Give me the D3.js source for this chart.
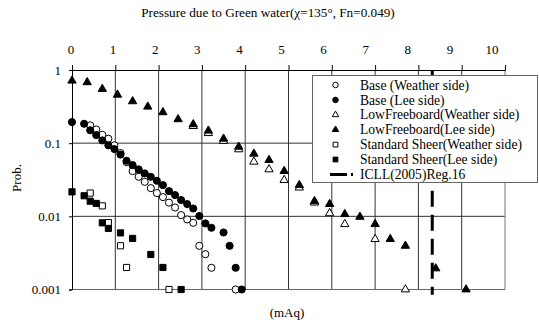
<!DOCTYPE html>
<html><head><meta charset="utf-8">
<script src="https://cdn.jsdelivr.net/npm/d3@7"></script>
<style>body{margin:0;background:#fff;} svg{display:block;} text{font-family:"Liberation Serif","Times New Roman",serif;fill:#000;}</style>
</head><body>
<svg id="c" width="539" height="325"></svg>
<script>
const title = "Pressure due to Green water(\u03c7=135\u00b0, Fn=0.049)";
const xLabel = "(mAq)";
const yLabel = "Prob.";
const xTicks = [0,1,2,3,4,5,6,7,8,9,10];
const yTicks = [1,0.1,0.01,0.001];
const yTickLabels = ["1","0.1","0.01","0.001"];

// Base (Weather side) - open circles
const baseWx = [0.42,0.56,0.70,0.84,0.98,1.12,1.26,1.40,1.54,1.68,1.82,1.96,2.10,2.24,2.38,2.52,2.66,2.80,2.94,3.08,3.22,3.78];
const baseWy = [0.175,0.154,0.130,0.115,0.0933,0.0733,0.0551,0.0415,0.0347,0.0296,0.0243,0.0208,0.0183,0.0154,0.0132,0.0104,0.00907,0.00815,0.00395,0.00304,0.00198,0.001];
// Base (Lee side) - filled circles
const baseLx = [0,0.28,0.42,0.56,0.70,0.84,0.98,1.12,1.26,1.40,1.54,1.68,1.82,1.96,2.10,2.24,2.38,2.52,2.66,2.80,2.94,3.08,3.22,3.50,3.64,3.78,3.92];
const baseLy = [0.194,0.184,0.150,0.129,0.109,0.0933,0.083,0.0698,0.0574,0.0501,0.0438,0.0386,0.0347,0.0306,0.0267,0.0221,0.0195,0.0167,0.0147,0.0128,0.0101,0.0080,0.00697,0.00602,0.00395,0.00198,0.001];
// LowFreeboard (Weather side) - open triangles
const lowWx = [2.80,3.15,3.50,3.85,4.20,4.55,4.90,5.25,5.60,5.95,6.30,7.00,7.70];
const lowWy = [0.171,0.137,0.107,0.0822,0.0557,0.0438,0.0313,0.0247,0.0154,0.0110,0.00782,0.00488,0.001];
// LowFreeboard (Lee side) - filled triangles
const lowLx = [0,0.35,0.70,1.05,1.40,1.75,2.10,2.45,2.80,3.15,3.50,3.85,4.20,4.55,4.90,5.25,5.60,5.95,6.30,6.65,7.00,7.35,7.70,8.40,9.10];
const lowLy = [0.714,0.679,0.55,0.459,0.373,0.315,0.264,0.212,0.181,0.148,0.115,0.0893,0.0716,0.0587,0.0415,0.0267,0.0161,0.0147,0.0107,0.00984,0.00782,0.00488,0.00395,0.00194,0.001];
// Standard Sheer (Weather side) - open squares
const stdWx = [0.42,0.70,0.84,1.12,1.26,2.24];
const stdWy = [0.0208,0.0139,0.0082,0.00396,0.0020,0.001];
// Standard Sheer (Lee side) - filled squares
const stdLx = [0,0.28,0.42,0.56,0.70,0.84,1.12,1.40,1.82,2.10,2.52];
const stdLy = [0.0216,0.0191,0.0161,0.0150,0.00815,0.00683,0.00594,0.00499,0.00301,0.0020,0.001];
// ICLL (2005) Reg.16 vertical line
const icllX = 8.32;
const icllY = [1,0.00085];

const legendNames = ["Base (Weather side)","Base (Lee side)","LowFreeboard(Weather side)","LowFreeboard(Lee side)","Standard Sheer(Weather side)","Standard Sheer(Lee side)","ICLL(2005)Reg.16"];

const svg = d3.select("#c");
const x = d3.scaleLinear().domain([0,10]).range([72,505]);
const xLab = d3.scaleLinear().domain([0,10]).range([71,492]);
const y = d3.scaleLog().domain([0.001,1]).range([289.5,70]);
const FS = "13px";

svg.append("text").attr("x",268).attr("y",17).attr("text-anchor","middle").style("font-size","13.2px").text(title);

// grid
const g = svg.append("g");
g.selectAll(".vg").data(d3.range(1,10)).enter().append("line")
  .attr("x1",d=>x(d)).attr("x2",d=>x(d)).attr("y1",y(1)).attr("y2",y(0.001))
  .attr("stroke","#333").attr("stroke-width",1);
g.selectAll(".hg").data([0.1,0.01]).enter().append("line")
  .attr("x1",x(0)).attr("x2",x(10)).attr("y1",d=>y(d)).attr("y2",d=>y(d))
  .attr("stroke","#333").attr("stroke-width",1);
// border
g.append("line").attr("x1",x(10)).attr("x2",x(10)).attr("y1",y(1)).attr("y2",y(0.001)).attr("stroke","#777");
g.append("line").attr("x1",x(0)).attr("x2",x(10)).attr("y1",y(0.001)).attr("y2",y(0.001)).attr("stroke","#666");

// top axis
const ax = svg.append("g").attr("transform",`translate(0,${y(1)})`)
  .call(d3.axisTop(x).tickValues(xTicks).tickSize(5).tickFormat(""));
ax.select(".domain").attr("stroke","#000");
ax.selectAll(".tick line").attr("stroke","#000");
svg.selectAll(".xl").data(xTicks).enter().append("text")
  .attr("x",d=>xLab(d)).attr("y",54).attr("text-anchor","middle").style("font-size",FS).text(d=>d);

// left axis
const ay = svg.append("g").attr("transform",`translate(${x(0)},0)`)
  .call(d3.axisLeft(y).tickValues(yTicks).tickSize(3).tickPadding(8).tickFormat((d,i)=>yTickLabels[i]));
ay.selectAll("text").style("font-size",FS).style("font-family","Liberation Serif");
ay.select(".domain").attr("stroke","#000");

svg.append("text").attr("transform","translate(21,178) rotate(-90)").attr("text-anchor","middle").style("font-size",FS).text(yLabel);
svg.append("text").attr("x",287).attr("y",317).attr("text-anchor","middle").style("font-size",FS).text(xLabel);

// ICLL line
svg.append("line").attr("x1",x(icllX)).attr("x2",x(icllX)).attr("y1",y(icllY[0])).attr("y2",y(icllY[1]))
  .attr("stroke","#000").attr("stroke-width",3).attr("stroke-dasharray","16,8").attr("stroke-dashoffset",-0.7);

const series = [
  {xs:baseWx, ys:baseWy, type:d3.symbolCircle, size:40, fill:"#fff"},
  {xs:baseLx, ys:baseLy, type:d3.symbolCircle, size:40, fill:"#000"},
  {xs:lowWx, ys:lowWy, type:d3.symbolTriangle, size:30, fill:"#fff"},
  {xs:lowLx, ys:lowLy, type:d3.symbolTriangle, size:30, fill:"#000"},
  {xs:stdWx, ys:stdWy, type:d3.symbolSquare, size:38, fill:"#fff"},
  {xs:stdLx, ys:stdLy, type:d3.symbolSquare, size:38, fill:"#000"}
];
series.forEach(s=>{
  const pts = s.xs.map((v,i)=>[v,s.ys[i]]);
  svg.append("g").selectAll("path").data(pts).enter().append("path")
    .attr("transform",d=>`translate(${x(d[0])},${y(d[1])})`)
    .attr("d",d3.symbol().type(s.type).size(s.size))
    .attr("fill",s.fill).attr("stroke","#000").attr("stroke-width",1);
});

// legend
const lg = svg.append("g");
lg.append("rect").attr("x",312.5).attr("y",75.5).attr("width",225).attr("height",107)
  .attr("fill","#fff").attr("stroke","#666");
legendNames.forEach((n,i)=>{
  const ly = 85 + i*14.9;
  if(i<6){
    const s = series[i];
    lg.append("path").attr("transform",`translate(335.5,${ly})`)
      .attr("d",d3.symbol().type(s.type).size(s.size*0.6)).attr("fill",s.fill).attr("stroke","#000");
  } else {
    lg.append("line").attr("x1",330).attr("x2",354).attr("y1",ly).attr("y2",ly)
      .attr("stroke","#000").attr("stroke-width",3).attr("stroke-dasharray","17,4,2,10");
  }
  lg.append("text").attr("x",360).attr("y",ly+4.6).style("font-size","13.6px").text(n);
});
</script>
</body></html>
